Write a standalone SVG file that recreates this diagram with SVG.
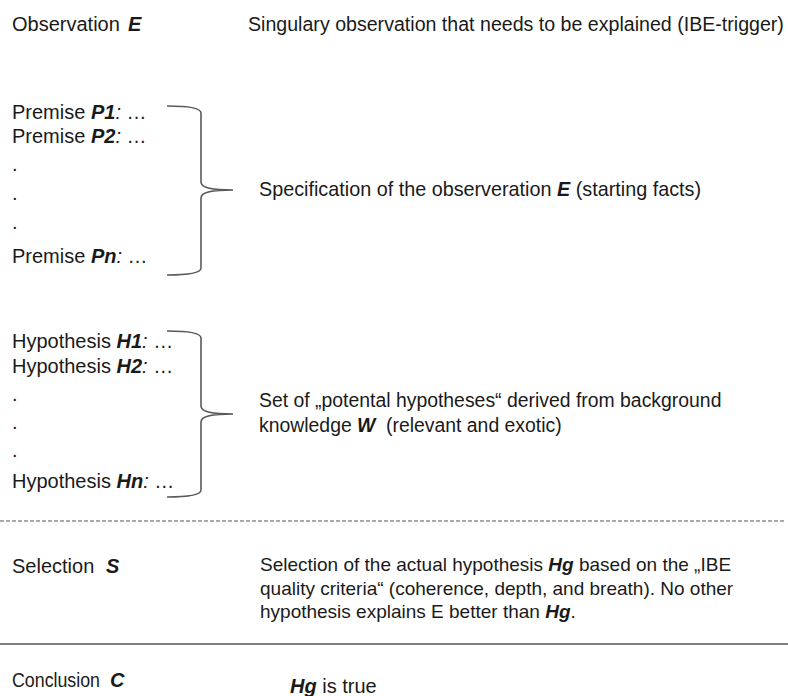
<svg xmlns="http://www.w3.org/2000/svg" width="788" height="696" viewBox="0 0 788 696">
<style>
text{font-family:"Liberation Sans",Arial,sans-serif;font-size:20px;fill:#1a1a1a}
.b{font-weight:bold;font-style:italic}
.i{font-style:italic}
.s19{font-size:19px}
.s194{font-size:19.4px}
.s196{font-size:19.6px}
.s198{font-size:19.8px}
.brace{fill:none;stroke:#5a5a5a;stroke-width:1.6}
</style>
<rect width="788" height="696" fill="#fff"/>
<g id="observation">
<text x="12" y="31">Observation</text><text x="128" y="31" class="b">E</text>
<text x="248" y="31" class="s196">Singulary observation that needs to be explained (IBE-trigger)</text>
</g>
<g id="premises">
<text x="12" y="119">Premise <tspan class="b">P1</tspan><tspan class="i">:</tspan> …</text>
<text x="12" y="143">Premise <tspan class="b">P2</tspan><tspan class="i">:</tspan> …</text>
<text x="12" y="171">.</text>
<text x="12" y="200">.</text>
<text x="12" y="229">.</text>
<text x="12" y="263">Premise <tspan class="b">Pn</tspan><tspan class="i">:</tspan> …</text>
<text x="259" y="196" class="s198">Specification of the observeration <tspan class="b">E</tspan> (starting facts)</text>
</g>
<g id="hypotheses">
<text x="12" y="348">Hypothesis <tspan class="b">H1</tspan><tspan class="i">:</tspan> …</text>
<text x="12" y="373">Hypothesis <tspan class="b">H2</tspan><tspan class="i">:</tspan> …</text>
<text x="12" y="401">.</text>
<text x="12" y="429">.</text>
<text x="12" y="457">.</text>
<text x="12" y="488">Hypothesis <tspan class="b">Hn</tspan><tspan class="i">:</tspan> …</text>
<text x="259" y="407" class="s194">Set of „potental hypotheses“ derived from background</text>
<text x="259" y="432" class="s194">knowledge</text>
<text x="357" y="432" class="b s194">W</text>
<text x="386" y="432" class="s194">(relevant and exotic)</text>
</g>
<g id="selection">
<text x="12" y="573">Selection</text><text x="106" y="573" class="b">S</text>
<text x="260" y="571" class="s19">Selection of the actual hypothesis <tspan class="b">Hg</tspan> based on the „IBE</text>
<text x="260" y="595" class="s19">quality criteria“ (coherence, depth, and breath). No other</text>
<text x="260" y="618" class="s19">hypothesis explains E better than <tspan class="b">Hg</tspan>.</text>
</g>
<g id="conclusion">
<text x="12" y="687" textLength="88" lengthAdjust="spacingAndGlyphs">Conclusion</text><text x="110" y="687" class="b">C</text>
<text x="290" y="693"><tspan class="b">Hg</tspan> is true</text>
</g>
<g id="connectors">
<path class="brace" d="M167,106 C190,106 201,108 201,113 L201,182 C201,188 212,190 233,190 C212,190 201,192 201,198 L201,268 C201,273 190,275 167,275"/>
<path class="brace" d="M167,331 C190,331 201,333 201,338 L201,406 C201,412 212,414 233,414 C212,414 201,416 201,422 L201,490 C201,495 190,497 167,497"/>
<line x1="0" y1="521" x2="786" y2="521" stroke="#555" stroke-width="1.2" stroke-dasharray="4,2"/>
<line x1="0" y1="644" x2="788" y2="644" stroke="#555" stroke-width="1.6"/>
</g>
</svg>
